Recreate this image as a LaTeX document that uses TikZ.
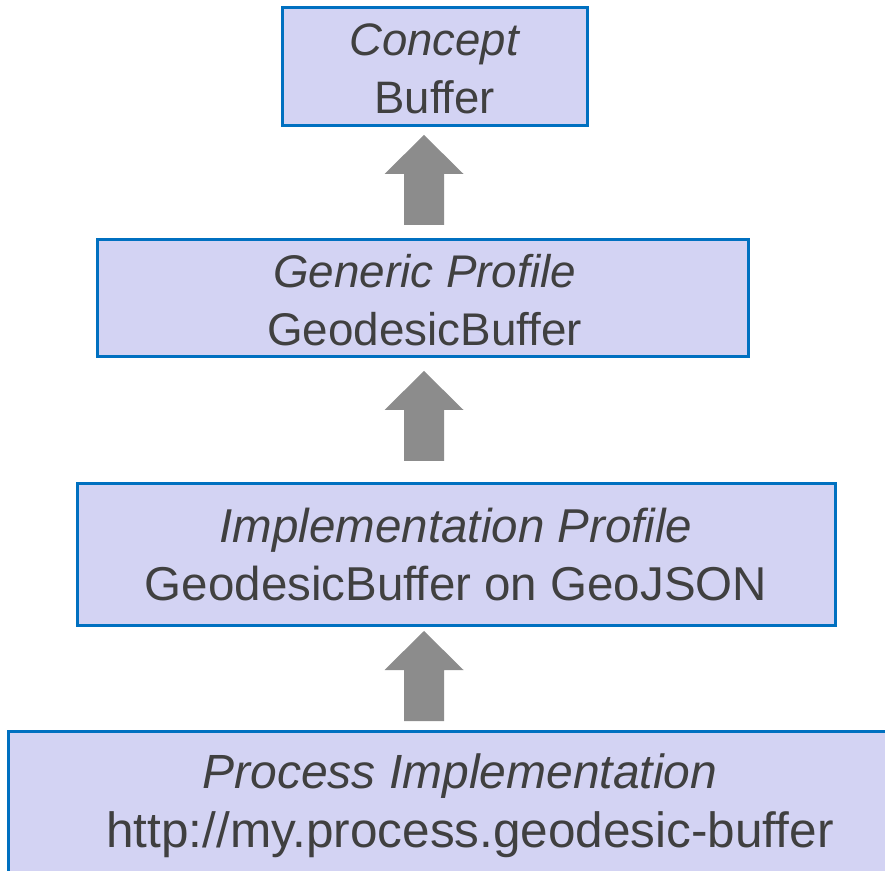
\documentclass[tikz,border=0pt]{standalone}
\usepackage{fontspec}
\setmainfont{Liberation Sans}
\definecolor{boxfill}{HTML}{D3D3F3}
\definecolor{boxline}{HTML}{0070C0}
\definecolor{textgray}{HTML}{404040}
\definecolor{arrowgray}{HTML}{8C8C8C}
\begin{document}
\begin{tikzpicture}[x=1pt,y=1pt,
  level/.style={draw=boxline, fill=boxfill, line width=3pt, inner sep=0pt,
    rectangle},
  caption/.style={inner sep=0pt, align=center, text=textgray},
  uparrow/.pic={\fill[arrowgray] (-20,0) -- (-20,51) -- (-39.5,51) -- (0,90)
    -- (39.5,51) -- (20,51) -- (20,0) -- cycle;}]
  \clip (0,0) rectangle (885,870);
  \fill[white] (0,0) rectangle (885,870);

  % the four levels, from abstract (top) to concrete (bottom)
  \node[level, minimum width=304.5pt, minimum height=118pt] (concept) at (434.75,803) {};
  \node[level, minimum width=651pt, minimum height=117pt] (generic) at (422.5,571.5) {};
  \node[level, minimum width=758pt, minimum height=142pt] (implprofile) at (456,315) {};
  \node[level, minimum width=924pt, minimum height=142pt] (process) at (470,68) {};

  % their captions
  \node[caption, font=\fontsize{45.5}{58}\selectfont] (concepttext)
    at ([yshift=-2pt]concept.center) {\textit{Concept}\\Buffer};
  \node[caption, font=\fontsize{45.8}{58}\selectfont] (generictext)
    at ([xshift=2pt,yshift=-2pt]generic.center) {\textit{Generic Profile}\\GeodesicBuffer};
  \node[caption, font=\fontsize{47.5}{58}\selectfont] (impltext)
    at (implprofile.center) {\textit{Implementation Profile}\\GeodesicBuffer on GeoJSON};
  \node[caption, font=\fontsize{49.5}{59}\selectfont] (processtext)
    at ([yshift=-4pt]process.center)
    {{\fontsize{48}{59}\selectfont\itshape Process Implementation}\hspace*{20pt}\\http://my.process.geodesic-buffer};

  % block arrows pointing upward between the levels
  \pic at (424,645) {uparrow};
  \pic at (424,409) {uparrow};
  \pic at (424,149) {uparrow};
\end{tikzpicture}
\end{document}
